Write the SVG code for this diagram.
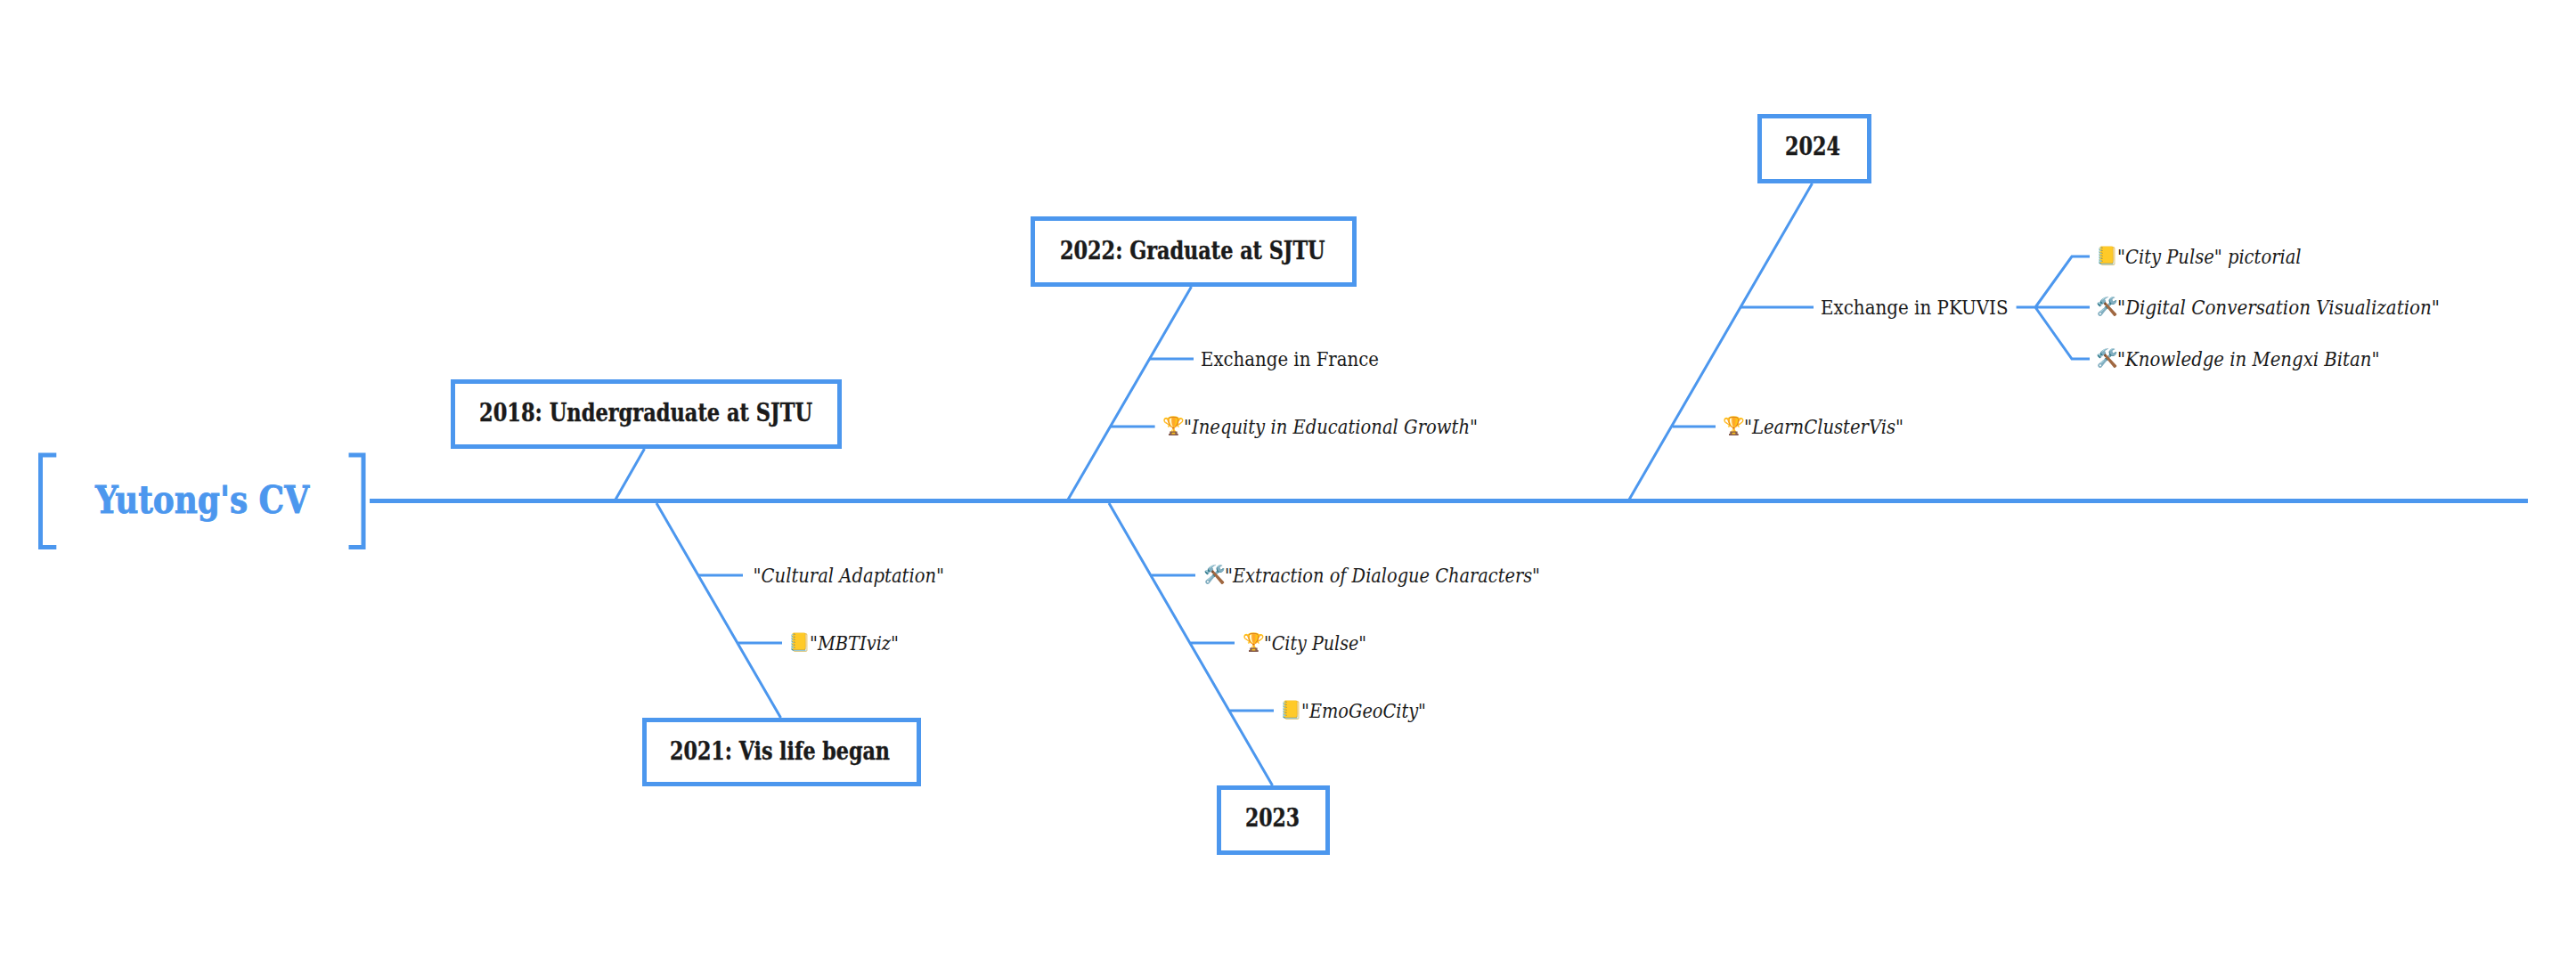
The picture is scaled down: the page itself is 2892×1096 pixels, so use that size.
<svg xmlns="http://www.w3.org/2000/svg" width="2892" height="1096" viewBox="0 0 2892 1096">
<style>
text{font-family:"DejaVu Serif Condensed","DejaVu Serif","Liberation Serif",serif;fill:#1a1a1a}
.box{fill:#fff;stroke:#4c97ee;stroke-width:5}
.t{font-size:28px;font-weight:700;stroke:#1a1a1a;stroke-width:.4px}
.r{font-size:23px}
.i{font-size:23px;font-style:italic}
.e{font-size:20px;font-family:"Noto Color Emoji","Noto Sans",sans-serif}
.l{fill:none;stroke:#4c97ee;stroke-width:3}
.s{fill:none;stroke:#4c97ee;stroke-width:5}
.title{font-size:42px;font-weight:700;fill:#4c97ee;stroke:#4c97ee;stroke-width:.8px}
</style>
<rect width="2892" height="1096" fill="#fff"/>
<g id="connectors">
<path class="s" d="M415 562.500H2838"/>
<path class="l" d="M723.500 504L691 561M737 565L876.500 806M1337.500 322L1199 561M1245 565L1428.500 882M2034.500 206L1829 561"/>
<path class="l" d="M784 646H834M829 722H878M1291 403H1340M1247 479H1296.600M1293 646H1342M1337 722H1386M1381 798H1430M1954 345H2036M1877.600 479H1926"/>
<path class="l" d="M2263.600 345H2346M2346 288H2326L2285 345L2326 403H2346"/>
</g>
<g id="root">
<path class="s" d="M63.300 511H45.500V614.500H63.300M391.500 511H408V614.500H391.500"/>
<text class="title" x="107" y="576" textLength="240" lengthAdjust="spacingAndGlyphs">Yutong's CV</text>
</g>
<g id="n2018"><rect class="box" x="508.500" y="428.500" width="434" height="73"/><text class="t" x="538" y="472.700" textLength="374" lengthAdjust="spacingAndGlyphs">2018: Undergraduate at SJTU</text></g>
<g id="n2021"><rect class="box" x="723.500" y="808.500" width="308" height="72"/><text class="t" x="752" y="852.700" textLength="247" lengthAdjust="spacingAndGlyphs">2021: Vis life began</text></g>
<g id="n2022"><rect class="box" x="1159.500" y="245.500" width="361" height="74"/><text class="t" x="1190" y="290.700" textLength="297.500" lengthAdjust="spacingAndGlyphs">2022: Graduate at SJTU</text></g>
<g id="n2023"><rect class="box" x="1368.500" y="884.500" width="122" height="73"/><text class="t" x="1398" y="928" textLength="61" lengthAdjust="spacingAndGlyphs">2023</text></g>
<g id="n2024"><rect class="box" x="1975.500" y="130.500" width="123" height="73"/><text class="t" x="2004" y="174" textLength="62" lengthAdjust="spacingAndGlyphs">2024</text></g>
<g id="cultural"><text class="i" x="845.600" y="654" textLength="214.400" lengthAdjust="spacingAndGlyphs">"Cultural Adaptation"</text></g>
<g id="mbti"><text class="e" x="885.500" y="728">📒</text><text class="i" x="909" y="730" textLength="100" lengthAdjust="spacingAndGlyphs">"MBTIviz"</text></g>
<g id="france"><text class="r" x="1348" y="411" textLength="200" lengthAdjust="spacingAndGlyphs">Exchange in France</text></g>
<g id="inequity"><text class="e" x="1305.500" y="485">🏆</text><text class="i" x="1329" y="487" textLength="330" lengthAdjust="spacingAndGlyphs">"Inequity in Educational Growth"</text></g>
<g id="extraction"><text class="e" x="1351.500" y="652">🛠</text><text class="i" x="1375" y="654" textLength="354" lengthAdjust="spacingAndGlyphs">"Extraction of Dialogue Characters"</text></g>
<g id="citypulse"><text class="e" x="1395.500" y="728">🏆</text><text class="i" x="1419" y="730" textLength="115" lengthAdjust="spacingAndGlyphs">"City Pulse"</text></g>
<g id="emogeo"><text class="e" x="1437.500" y="804">📒</text><text class="i" x="1461" y="806" textLength="140" lengthAdjust="spacingAndGlyphs">"EmoGeoCity"</text></g>
<g id="pkuvis"><text class="r" x="2044" y="353" textLength="210.500" lengthAdjust="spacingAndGlyphs">Exchange in PKUVIS</text></g>
<g id="pictorial"><text class="e" x="2353.500" y="294">📒</text><text class="i" x="2377" y="296" textLength="206.600" lengthAdjust="spacingAndGlyphs">"City Pulse" pictorial</text></g>
<g id="digital"><text class="e" x="2353.500" y="351">🛠</text><text class="i" x="2377" y="353" textLength="362" lengthAdjust="spacingAndGlyphs">"Digital Conversation Visualization"</text></g>
<g id="knowledge"><text class="e" x="2353.500" y="409">🛠</text><text class="i" x="2377" y="411" textLength="294.500" lengthAdjust="spacingAndGlyphs">"Knowledge in Mengxi Bitan"</text></g>
<g id="learn"><text class="e" x="1934.500" y="485">🏆</text><text class="i" x="1958" y="487" textLength="179" lengthAdjust="spacingAndGlyphs">"LearnClusterVis"</text></g>
</svg>
